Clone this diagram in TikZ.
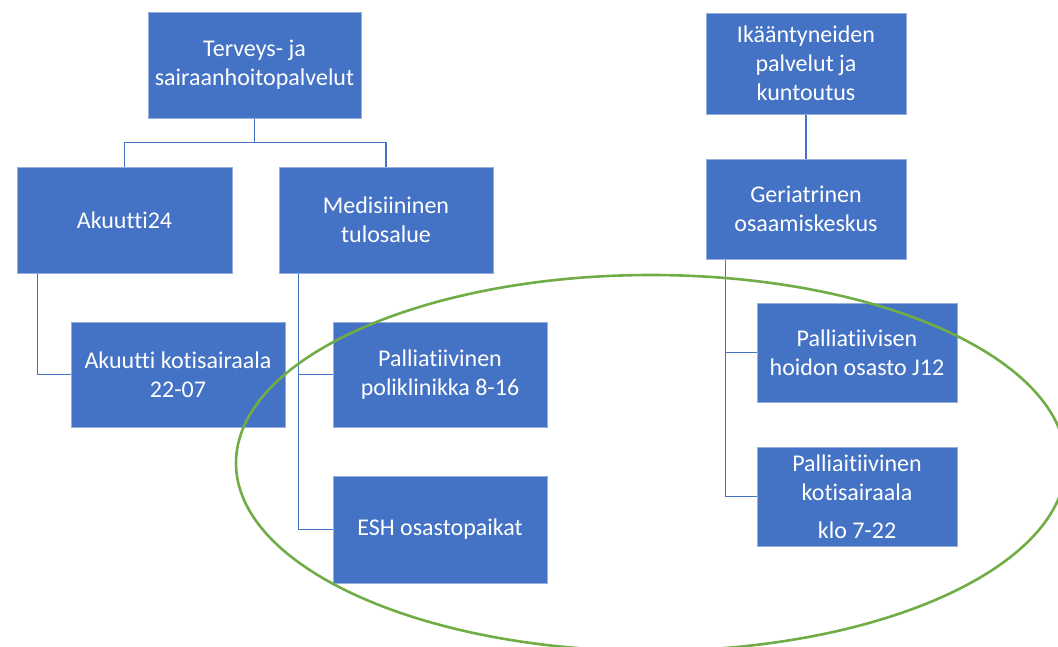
\documentclass[tikz,border=0pt]{standalone}
\usepackage{fontspec}
\setmainfont{Carlito}[Ligatures={NoCommon,NoContextual}, RawFeature={-liga;-clig;-dlig}]
\usepackage{tikz}
\usetikzlibrary{positioning}
\usepackage{xcolor}
\definecolor{officeblue}{RGB}{68,114,196}
\definecolor{officegreen}{RGB}{112,173,71}
\definecolor{boxedge}{RGB}{150,175,222}
\tikzstyle{unit} = [rectangle, fill=officeblue, draw=boxedge, line width=1pt, text=white, align=center, inner sep=0pt, minimum width=214pt, minimum height=106pt, font=\fontsize{24}{29}\selectfont]
\tikzstyle{link} = [draw=officeblue, line width=1.6pt]
\tikzstyle{ring} = [draw=officegreen, line width=2.6pt]

\begin{document}
\begin{tikzpicture}[x=1pt, y=-1pt]
        \useasboundingbox (0,0) rectangle (1058,646);
        \node[unit, minimum width=213pt] (tsp) at (254.5,65) {Terveys- ja\\sairaanhoitopalvelut};
        \node[unit, below=48pt of tsp, xshift=-130pt, minimum width=215pt] (a24) {Akuutti24};
        \node[unit, right=46pt of a24] (med) {Medisiininen\\tulosalue};
        \node[unit, below=48pt of a24, xshift=53.5pt, minimum height=105pt] (ak) {Akuutti kotisairaala\\22-07};
        \node[unit, right=47pt of ak, minimum height=105pt] (pp) {Palliatiivinen\\poliklinikka 8-16};
        \node[unit, below=48pt of pp, minimum height=107pt] (esh) {ESH osastopaikat};
        \node[unit, minimum width=200pt, minimum height=101pt] (ika) at (806,63.5) {Ikääntyneiden\\palvelut ja\\kuntoutus};
        \node[unit, below=44pt of ika, minimum width=200pt, minimum height=100pt] (ger) {Geriatrinen\\osaamiskeskus};
        \node[unit, below=43pt of ger, xshift=51pt, minimum width=200pt, minimum height=99pt] (j12) {Palliatiivisen\\hoidon osasto J12};
        \node[unit, below=44pt of j12, minimum width=200pt, minimum height=99pt] (ks) {Palliaitiivinen\\kotisairaala\\[9pt]klo 7-22};
        \draw[link] (tsp.south) -- ++(0,24) coordinate (fork) -| (a24.north);
        \draw[link] (fork) -| (med.north);
        \draw[link] ([xshift=21pt]a24.south west) |- (ak.west);
        \draw[link] ([xshift=20pt]med.south west) |- (pp.west);
        \draw[link] ([xshift=20pt]med.south west) |- (esh.west);
        \draw[link] (ika) -- (ger);
        \draw[link] ([xshift=20pt]ger.south west) |- (j12.west);
        \draw[link] ([xshift=20pt]ger.south west) |- (ks.west);
        \begin{scope}
            \clip (0,0) rectangle (1058,646);
            \draw[ring] (651,463) ellipse [x radius=415pt, y radius=188pt];
        \end{scope}
    \end{tikzpicture}
\end{document}
